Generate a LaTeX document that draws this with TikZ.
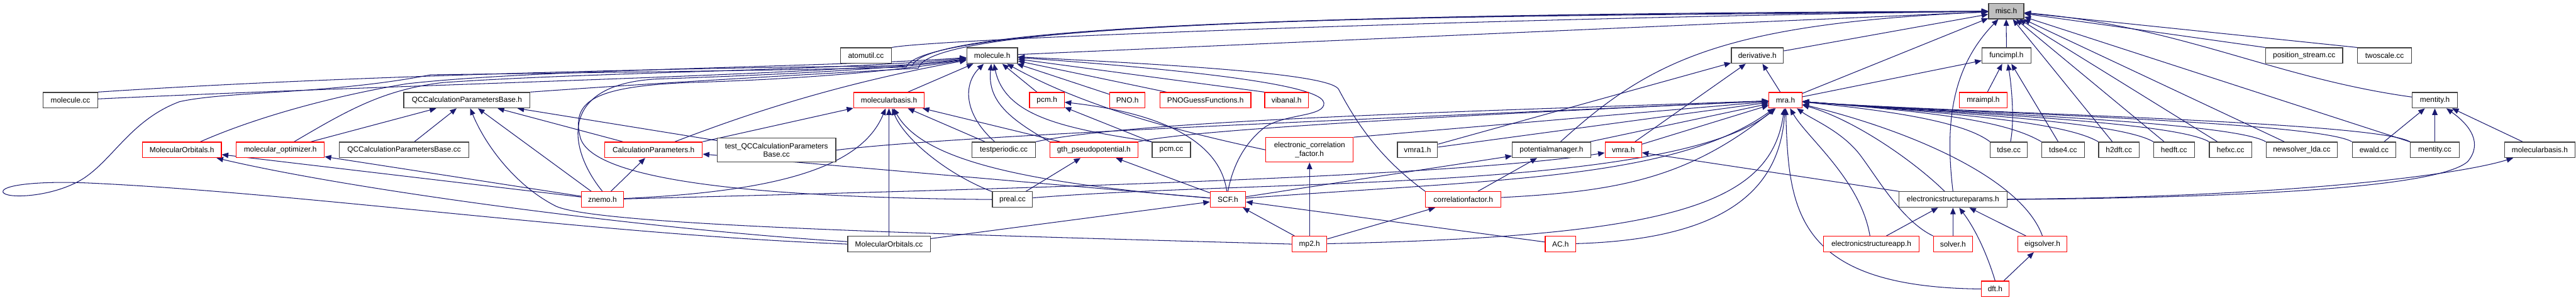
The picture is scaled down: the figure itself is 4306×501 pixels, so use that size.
\documentclass[tikz,border=0pt]{standalone}
\usepackage{fontspec}
\setmainfont{Liberation Sans}
\usetikzlibrary{arrows.meta,backgrounds}
\definecolor{edgeblue}{RGB}{25,25,112}
\definecolor{boxred}{RGB}{255,0,0}

\begin{document}
\begin{tikzpicture}[x=1pt,y=-1pt,
  file/.style={draw=black!75,line width=1.3pt,fill=white,inner xsep=2pt,inner ysep=1pt,
    minimum height=26pt,align=center,font=\fontsize{12.5}{14}\selectfont},
  hot/.style={file,draw=boxred},
  root/.style={file,fill=black!25},
  dep/.style={draw=edgeblue,line width=1.1pt,-{Triangle[length=11pt,width=9pt]}}]
\useasboundingbox (0,0) rectangle (4306,501);
% ---------- rank 1 ----------
\node[root,minimum width=59pt] (misc) at (3353.5,18.5) {misc.h};
% ---------- rank 2 ----------
\node[file,minimum width=85pt] (atomutilcc) at (1447.5,93) {atomutil.cc};
\node[file,minimum width=85pt] (moleculeh) at (1658.5,93) {molecule.h};
\node[file,minimum width=87pt] (derivative) at (2937.5,93) {derivative.h};
\node[file,minimum width=82pt] (funcimpl) at (3354,93) {funcimpl.h};
\node[file,minimum width=129pt] (posstream) at (3851.5,93) {position\_stream.cc};
\node[file,minimum width=90pt] (twoscale) at (3986,93) {twoscale.cc};
% ---------- rank 3 ----------
\node[file,minimum width=91pt] (moleculecc) at (117.75,167.5) {molecule.cc};
\node[file,minimum width=211pt] (qcbaseh) at (780.5,167.5) {QCCalculationParametersBase.h};
\node[hot,minimum width=118pt] (molbasis) at (1486,167.5) {molecularbasis.h};
\node[hot,minimum width=58pt] (pcmh) at (1750,167.5) {pcm.h};
\node[hot,minimum width=59pt] (pno) at (1884.5,167.5) {PNO.h};
\node[hot,minimum width=152pt] (pnoguess) at (2015,167.5) {PNOGuessFunctions.h};
\node[hot,minimum width=73pt] (vibanal) at (2150.5,167.5) {vibanal.h};
\node[hot,minimum width=55pt] (mrah) at (2984.5,167.5) {mra.h};
\node[hot,minimum width=80pt] (mraimpl) at (3315,167.5) {mraimpl.h};
\node[file,minimum width=76pt] (mentityh) at (4070,167.5) {mentity.h};
% ---------- rank 4 ----------
\node[hot,minimum width=132pt] (molorbh) at (304,250.5) {MolecularOrbitals.h};
\node[hot,minimum width=147pt] (molopt) at (468.5,250.5) {molecular\_optimizer.h};
\node[file,minimum width=217pt] (qcbasecc) at (675.5,250.5) {QCCalculationParametersBase.cc};
\node[hot,minimum width=163pt] (calcparam) at (1092.5,250.5) {CalculationParameters.h};
\node[file,minimum width=198pt,minimum height=40pt] (testqc) at (1298,251) {test\_QCCalculationParameters\\Base.cc};
\node[file,minimum width=106pt] (testperiodic) at (1678,250.5) {testperiodic.cc};
\node[hot,minimum width=147pt] (gthpp) at (1828.5,250.5) {gth\_pseudopotential.h};
\node[file,minimum width=64pt] (pcmcc) at (1958,250.5) {pcm.cc};
\node[hot,minimum width=146pt,minimum height=41pt] (eleccorr) at (2189,250.5) {electronic\_correlation\\\_factor.h};
\node[file,minimum width=67pt] (vmraone) at (2369.5,250.5) {vmra1.h};
\node[file,minimum width=131pt] (potman) at (2593.5,250.5) {potentialmanager.h};
\node[hot,minimum width=61pt] (vmrah) at (2713.5,250.5) {vmra.h};
\node[file,minimum width=62pt] (tdse) at (3358,250.5) {tdse.cc};
\node[file,minimum width=71pt] (tdsefour) at (3448.5,250.5) {tdse4.cc};
\node[file,minimum width=68pt] (htwodft) at (3542,250.5) {h2dft.cc};
\node[file,minimum width=68pt] (hedft) at (3634,250.5) {hedft.cc};
\node[file,minimum width=71pt] (hefxc) at (3728.5,250.5) {hefxc.cc};
\node[file,minimum width=119pt] (newsolver) at (3847.5,250.5) {newsolver\_lda.cc};
\node[file,minimum width=73pt] (ewald) at (3968.5,250.5) {ewald.cc};
\node[file,minimum width=82pt] (mentitycc) at (4070,250.5) {mentity.cc};
\node[file,minimum width=117pt] (molbasisb) at (4245.5,250.5) {molecularbasis.h};
% ---------- rank 5 ----------
\node[hot,minimum width=70pt] (znemo) at (1007,333.5) {znemo.h};
\node[file,minimum width=67pt] (preal) at (1692.5,333.5) {preal.cc};
\node[hot,minimum width=59pt] (scf) at (2052.5,333.5) {SCF.h};
\node[hot,minimum width=126pt] (corrfac) at (2446,333.5) {correlationfactor.h};
\node[file,minimum width=181pt] (esparams) at (3264.5,333.5) {electronicstructureparams.h};
% ---------- rank 6 ----------
\node[file,minimum width=138pt] (molorbcc) at (1486,408) {MolecularOrbitals.cc};
\node[hot,minimum width=58pt] (mptwo) at (2189,408) {mp2.h};
\node[hot,minimum width=51pt] (ac) at (2608.5,408) {AC.h};
\node[hot,minimum width=160pt] (esapp) at (3128,408) {electronicstructureapp.h};
\node[hot,minimum width=65pt] (solver) at (3264.5,408) {solver.h};
\node[hot,minimum width=82pt] (eigsolver) at (3414,408) {eigsolver.h};
% ---------- rank 7 ----------
\node[hot,minimum width=46pt] (dft) at (3335,483) {dft.h};

\begin{scope}[on background layer]
% ---------- straight includes ----------
\foreach \c/\p in {twoscale.north west/misc, posstream.north west/misc,
    moleculeh/misc, derivative/misc, mrah/misc, funcimpl/misc,
    htwodft/misc, hedft/misc, hefxc/misc, newsolver/misc, mentitycc/misc,
    molbasis/moleculeh, pcmh/moleculeh, pno/moleculeh, pnoguess/moleculeh,
    vibanal.north west/moleculeh,
    molopt/qcbaseh, qcbasecc/qcbaseh, znemo/qcbaseh, calcparam/qcbaseh, testqc/qcbaseh,
    znemo/molorbh, znemo/molopt, znemo/calcparam, scf/calcparam,
    calcparam.north east/molbasis, molorbcc/molbasis, testperiodic/molbasis, gthpp/molbasis,
    pcmcc/pcmh, preal/gthpp, scf/gthpp, mptwo/eleccorr,
    molorbcc/scf, mptwo/scf, ac/scf, mptwo/corrfac, corrfac/potman, scf/potman,
    esparams/vmrah, vmraone/derivative, vmrah/derivative, mrah/derivative, mrah/funcimpl,
    vmraone/mrah, potman/mrah, vmrah/mrah, eleccorr.north east/mrah,
    mraimpl/funcimpl, tdsefour/funcimpl,
    esapp/esparams, solver/esparams, eigsolver/esparams, dft/eigsolver,
    ewald/mentityh, mentitycc/mentityh, molbasisb/mentityh}
  \draw[dep] (\c) -- (\p);
% right-hand files into mra.h
\foreach \c in {tdsefour,htwodft,hedft,hefxc,newsolver,ewald,mentitycc}
  \draw[dep] (\c.north west) .. controls +(-60,-35) and +(250,20) .. (mrah);
\draw[dep] (tdse.north west) .. controls +(-40,-30) and +(200,20) .. (mrah);
\draw[dep] (tdse) .. controls (3368,200) and (3362,140) .. (funcimpl);
% ---------- routed round the others ----------
\draw[dep] (molorbcc.west) .. controls (1000,392) and (500,322) .. (150,306)
  .. controls (60,302) and (2,310) .. (5,321)
  .. controls (9,333) and (90,330) .. (140,298)
  .. controls (190,265) and (220,200) .. (300,170)
  .. controls (380,152) and (550,158) .. (720,125)
  .. controls (1100,120) and (1400,116) .. (1515,112)
  .. controls (1545,30) and (2600,22) .. (misc);
\draw[dep] (moleculecc.north east) .. controls (600,125) and (1200,112) .. (1525,110)
  .. controls (1550,25) and (2650,25) .. (misc);
\draw[dep] (qcbaseh.north east) .. controls (1150,135) and (1400,122) .. (1535,114)
  .. controls (1560,20) and (2700,28) .. (misc);
\draw[dep] (atomutilcc.north east) .. controls (1560,65) and (2500,30) .. (misc);
\draw[dep] (moleculecc) .. controls (700,140) and (1400,125) .. (moleculeh);
\draw[dep] (molorbh) .. controls (430,195) and (560,160) .. (680,140)
  .. controls (900,115) and (1400,112) .. (moleculeh);
\draw[dep] (molopt) .. controls (580,185) and (640,150) .. (740,138)
  .. controls (1000,120) and (1400,118) .. (moleculeh);
\draw[dep] (calcparam) .. controls (1250,190) and (1400,140) .. (moleculeh);
\draw[dep] (znemo.north) .. controls (950,250) and (930,140) .. (1100,132)
  .. controls (1300,125) and (1500,115) .. (moleculeh);
\draw[dep] (preal.west) .. controls (1250,330) and (990,300) .. (970,230)
  .. controls (955,170) and (990,145) .. (1150,138)
  .. controls (1350,132) and (1500,118) .. (moleculeh);
\draw[dep] (testperiodic) .. controls (1610,190) and (1610,140) .. (moleculeh);
\draw[dep] (gthpp.north west) .. controls (1690,200) and (1650,170) .. (moleculeh);
\draw[dep] (pcmcc.north west) .. controls (1780,215) and (1680,195) .. (moleculeh);
\draw[dep] (eleccorr.west) .. controls (1900,205) and (1780,160) .. (moleculeh);
\draw[dep] (scf.north) .. controls (2062,270) and (2085,235) .. (2115,212)
  .. controls (2150,190) and (2215,195) .. (2213,172)
  .. controls (2210,150) and (2100,125) .. (moleculeh);
\draw[dep] (corrfac.north west) .. controls (2300,260) and (2262,195) .. (2238,150)
  .. controls (2228,125) and (2000,110) .. (moleculeh);
\draw[dep] (mptwo.west) .. controls (1500,390) and (1000,375) .. (930,345)
  .. controls (860,310) and (810,240) .. (qcbaseh);
\draw[dep] (molorbcc) .. controls (1100,385) and (600,320) .. (molorbh);
\draw[dep] (znemo) .. controls (1300,320) and (1440,280) .. (molbasis);
\draw[dep] (preal) .. controls (1580,290) and (1510,230) .. (molbasis);
\draw[dep] (scf) .. controls (1700,305) and (1540,265) .. (molbasis);
\draw[dep] (scf) .. controls (2040,240) and (1950,190) .. (pcmh);
\draw[dep] (znemo) .. controls (1500,320) and (2400,300) .. (vmrah);
\draw[dep] (testqc.east) .. controls (1600,225) and (2400,195) .. (mrah);
\draw[dep] (testperiodic.north east) .. controls (1900,200) and (2500,185) .. (mrah);
\draw[dep] (gthpp.north east) .. controls (2000,215) and (2500,190) .. (mrah);
\draw[dep] (preal) .. controls (2100,300) and (2800,320) .. (mrah);
\draw[dep] (scf) .. controls (2500,300) and (2800,300) .. (mrah);
\draw[dep] (corrfac) .. controls (2700,320) and (2820,300) .. (mrah);
\draw[dep] (mptwo) .. controls (2800,395) and (2960,340) .. (mrah);
\draw[dep] (ac) .. controls (2880,400) and (2975,320) .. (mrah);
\draw[dep] (potman) .. controls (2760,100) and (2880,40) .. (misc);
\draw[dep] (esparams.north) .. controls (3250,200) and (3265,110) .. (misc);
\draw[dep] (esparams) .. controls (3200,270) and (3100,200) .. (mrah);
\draw[dep] (esapp) .. controls (3110,300) and (3020,230) .. (mrah);
\draw[dep] (solver.north west) .. controls (3180,370) and (3140,300) .. (3110,260)
  .. controls (3080,220) and (3030,200) .. (mrah);
\draw[dep] (eigsolver.north) .. controls (3380,300) and (3200,220) .. (mrah);
\draw[dep] (dft.west) .. controls (3000,480) and (2990,350) .. (mrah);
\draw[dep] (dft.north) .. controls (3320,420) and (3300,380) .. (esparams);
\draw[dep] (mentityh) .. controls (3800,130) and (3650,45) .. (misc);
\draw[dep] (esparams.east) .. controls (3800,330) and (4080,310) .. (4125,270)
  .. controls (4150,240) and (4130,210) .. (mentityh);
\draw[dep] (esparams) .. controls (3800,330) and (4100,295) .. (molbasisb);
\end{scope}
\end{tikzpicture}
\end{document}
